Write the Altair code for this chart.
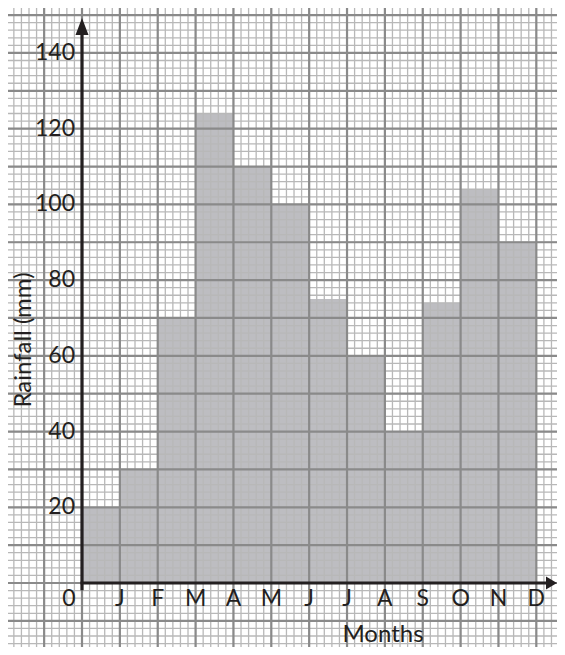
import altair as alt
import numpy as np
import pandas as pd

# ---- data ----
months = ["J", "F", "M", "A", "M", "J", "J", "A", "S", "O", "N", "D"]
rainfall = [20, 30, 70, 124, 110, 100, 75, 60, 40, 74, 104, 90]
y_ticks = [20, 40, 60, 80, 100, 120, 140]
x_label_pos = list(range(1, 13))

W, H = 549, 639
XDOM = [-1.9546, 12.546]
YDOM = [-16.904, 151.87]
xs = alt.Scale(domain=XDOM, nice=False, zero=False)
ys = alt.Scale(domain=YDOM, nice=False, zero=False)
INK = "#231f20"
FONT = "Lato"

bars_df = pd.DataFrame({
    "start": list(range(0, 12)),
    "end": list(range(1, 13)),
    "rain": rainfall,
    "month": months,
})

minor_x = pd.DataFrame({"x": np.round(np.arange(-1.8, 12.55, 0.2), 3)})
minor_y = pd.DataFrame({"y": np.arange(-16, 152, 2)})
major_x = pd.DataFrame({"x": list(range(-1, 13))})
major_y = pd.DataFrame({"y": list(range(-10, 151, 10))})

bars = alt.Chart(bars_df).mark_rect(color="#bdbdc1").encode(
    x=alt.X("start:Q", scale=xs, axis=None),
    x2="end:Q",
    y=alt.Y("rain:Q", scale=ys, axis=None),
    y2=alt.datum(0),
)

minor_v = alt.Chart(minor_x).mark_rule(color="#b8b8b8", strokeWidth=1.3).encode(
    x=alt.X("x:Q", scale=xs, axis=None))
minor_h = alt.Chart(minor_y).mark_rule(color="#b8b8b8", strokeWidth=1.3).encode(
    y=alt.Y("y:Q", scale=ys, axis=None))
major_v = alt.Chart(major_x).mark_rule(color="#8a8a8a", strokeWidth=2.2).encode(
    x=alt.X("x:Q", scale=xs, axis=None))
major_h = alt.Chart(major_y).mark_rule(color="#8a8a8a", strokeWidth=2.2).encode(
    y=alt.Y("y:Q", scale=ys, axis=None))

# axes lines
yaxis_df = pd.DataFrame({"x": [0], "y0": [-1.9], "y1": [146.0]})
y_axis = alt.Chart(yaxis_df).mark_rule(color=INK, strokeWidth=3.2).encode(
    x=alt.X("x:Q", scale=xs, axis=None),
    y=alt.Y("y0:Q", scale=ys, axis=None),
    y2="y1:Q",
)
xaxis_df = pd.DataFrame({"x0": [-0.04], "x1": [12.28], "y": [0]})
x_axis = alt.Chart(xaxis_df).mark_rule(color=INK, strokeWidth=3.2).encode(
    x=alt.X("x0:Q", scale=xs, axis=None),
    x2="x1:Q",
    y=alt.Y("y:Q", scale=ys, axis=None),
)

up_arrow = alt.Chart(pd.DataFrame({"x": [0], "y": [147.0]})).mark_point(
    shape="M-0.65,0.85L0,-0.85L0.65,0.85Z", size=400, filled=True,
    color=INK, opacity=1, strokeWidth=0,
).encode(x=alt.X("x:Q", scale=xs, axis=None), y=alt.Y("y:Q", scale=ys, axis=None))

right_arrow = alt.Chart(pd.DataFrame({"x": [12.40], "y": [0]})).mark_point(
    shape="M-0.55,-0.65L0.55,0L-0.55,0.65Z", size=400, filled=True,
    color=INK, opacity=1, strokeWidth=0,
).encode(x=alt.X("x:Q", scale=xs, axis=None), y=alt.Y("y:Q", scale=ys, axis=None))

# tick labels
ylab_df = pd.DataFrame({"y": y_ticks, "x": [0] * len(y_ticks), "t": [str(v) for v in y_ticks]})
y_labels = alt.Chart(ylab_df).mark_text(
    align="right", baseline="middle", dx=-7, fontSize=23, font=FONT, color=INK
).encode(x=alt.X("x:Q", scale=xs, axis=None), y=alt.Y("y:Q", scale=ys, axis=None), text="t:N")

xlab_df = pd.DataFrame({"x": x_label_pos, "y": [0] * 12, "t": months})
x_labels = alt.Chart(xlab_df).mark_text(
    align="center", baseline="middle", dy=16, fontSize=23, font=FONT, color=INK
).encode(x=alt.X("x:Q", scale=xs, axis=None), y=alt.Y("y:Q", scale=ys, axis=None), text="t:N")

zero_label = alt.Chart(pd.DataFrame({"x": [0], "y": [0], "t": ["0"]})).mark_text(
    align="center", baseline="middle", dx=-13, dy=16, fontSize=23, font=FONT, color=INK
).encode(x=alt.X("x:Q", scale=xs, axis=None), y=alt.Y("y:Q", scale=ys, axis=None), text="t:N")

x_title = alt.Chart(pd.DataFrame({"t": ["Months"]})).mark_text(
    align="center", baseline="middle", fontSize=24, font=FONT, color=INK
).encode(x=alt.value(375), y=alt.value(627), text="t:N")

y_title = alt.Chart(pd.DataFrame({"t": ["Rainfall (mm)"]})).mark_text(
    align="center", baseline="middle", angle=270, fontSize=24, font=FONT, color=INK
).encode(x=alt.value(16), y=alt.value(332), text="t:N")

chart = alt.layer(
    bars, minor_v, minor_h, major_v, major_h,
    x_axis, y_axis, up_arrow, right_arrow,
    y_labels, x_labels, zero_label, x_title, y_title,
).properties(
    width=W, height=H,
    autosize=alt.AutoSizeParams(type="none"),
    padding=0,
    background="white",
).configure_view(stroke=None)

chart.save("out.html", embed_options={"renderer": "svg", "actions": False})
